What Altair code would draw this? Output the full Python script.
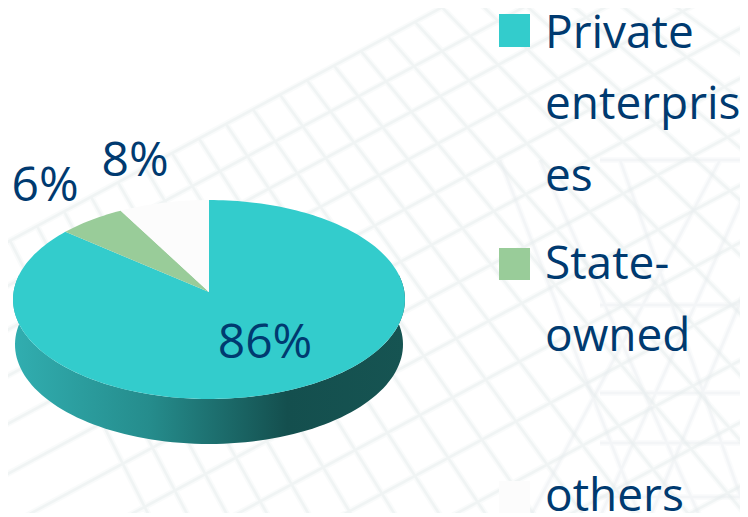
import math
import altair as alt
import pandas as pd

# ---- chart values ----
categories = ["Private enterprises", "State-owned", "others"]
shares = [86, 6, 8]
share_labels = ["86%", "6%", "8%"]
legend_lines = [["Private", "enterpris", "es"], ["State-", "owned"], ["others"]]
colors = ["#33CCCC", "#99CC99", "#FCFCFC"]

# ---- layout (page coordinates; the page margin is 8px) ----
M = 8
CX, CY = 209 - M, 292 - M
DEPTH = 45
K, A, B = 0.0754, 98.9, 195.4
PROJ = {"type": "identity", "scale": 1, "translate": [0, 0]}


def rim(theta_deg, dy=0.0, shrink=1.0):
    t = math.radians(theta_deg)
    X, Y = math.sin(t), math.cos(t)
    w = 1 + K * Y
    return [CX + shrink * B * X / w, CY - A * Y / w + dy]


def wedge(a0, a1):
    n = max(4, int((a1 - a0) / 1.5))
    return [[CX, CY]] + [rim(a0 + (a1 - a0) * i / n) for i in range(n + 1)] + [[CX, CY]]


features = []
acc = 0.0
for name, share in zip(categories, shares):
    a0, a1 = acc, acc + share * 3.6
    acc = a1
    features.append({
        "type": "Feature",
        "properties": {"name": name},
        "geometry": {"type": "Polygon", "coordinates": [wedge(a0, a1)]},
    })

side_top = [rim(a) for a in range(80, 281, 2)]
side_bot = [rim(a, DEPTH, 0.99) for a in range(280, 79, -2)]
side_feature = {
    "type": "Feature", "properties": {},
    "geometry": {"type": "Polygon", "coordinates": [side_top + side_bot + [side_top[0]]]},
}


# ---- faint background mesh ----
def seg(x0, y0, x1, y1):
    return [[x0 - M, y0 - M], [x1 - M, y1 - M]]


mesh = []
for c in [246, 290, 334, 380, 428, 478, 530, 585, 642, 700, 760, 822, 886]:
    mesh.append(seg(0, c, 748, c - 0.54 * 748))
for k in range(0, 22):
    x0 = 10 + 27 * k
    y0 = 246 - 0.54 * x0
    slope = 2.0 - 0.0022 * x0
    mesh.append(seg(x0, y0, x0 + (540 - y0) / slope, 540))
net = []
for y in [160, 305, 393, 443, 497]:
    net.append(seg(600, y, 748, y))
for x0, x1 in [(720, 530), (760, 600), (800, 650), (620, 748), (540, 700), (500, 640)]:
    net.append(seg(x0, 160, x1, 517))

mesh_feature = {"type": "Feature", "properties": {},
                "geometry": {"type": "MultiLineString", "coordinates": mesh}}
net_feature = {"type": "Feature", "properties": {},
               "geometry": {"type": "MultiLineString", "coordinates": net}}


def lines_layer(feature, color, width, opacity):
    return alt.Chart(alt.Data(values=[feature])).mark_geoshape(
        filled=False, stroke=color, strokeWidth=width, opacity=opacity, clip=True
    ).project(**PROJ)


mesh_soft = lines_layer(mesh_feature, "#E6ECEC", 6, 0.2)
mesh_core = lines_layer(mesh_feature, "#E6ECEC", 2.6, 0.45)
net_soft = lines_layer(net_feature, "#E9EEF0", 6, 0.18)
net_core = lines_layer(net_feature, "#E9EEF0", 2.6, 0.4)

side_gradient = alt.LinearGradient(
    gradient="linear", x1=0, x2=1, y1=0, y2=0,
    stops=[
        alt.GradientStop(offset=0, color="#31AEB0"),
        alt.GradientStop(offset=0.35, color="#258C8C"),
        alt.GradientStop(offset=0.70, color="#144F4E"),
        alt.GradientStop(offset=1, color="#165452"),
    ],
)
side_layer = alt.Chart(alt.Data(values=[side_feature])).mark_geoshape(
    fill=side_gradient, strokeWidth=0
).project(**PROJ)

pie_layer = alt.Chart(alt.Data(values=features)).mark_geoshape(strokeWidth=0).encode(
    color=alt.Color("properties.name:N", legend=None,
                    scale=alt.Scale(domain=categories, range=colors))
).project(**PROJ)

# ---- slice labels ----
label_df = pd.DataFrame({
    "text": share_labels,
    "x": [265 - M, 45 - M, 135 - M],
    "y": [358 - M, 201 - M, 176 - M],
})
labels = alt.Chart(label_df).mark_text(
    font="Open Sans", fontSize=48, color="#003A70", align="center", baseline="alphabetic"
).encode(
    x=alt.X("x:Q", scale=None, axis=None),
    y=alt.Y("y:Q", scale=None, axis=None),
    text="text:N",
)

# ---- hand-placed legend (wrapped like the original) ----
sq_df = pd.DataFrame({
    "name": categories,
    "x": [499 - M] * 3, "x2": [530 - M] * 3,
    "y": [14 - M, 248 - M, 481 - M], "y2": [47 - M, 280 - M, 513 - M],
    "c": colors,
})
squares = alt.Chart(sq_df).mark_rect().encode(
    x=alt.X("x:Q", scale=None, axis=None), x2="x2:Q",
    y=alt.Y("y:Q", scale=None, axis=None), y2="y2:Q",
    color=alt.Color("c:N", scale=None, legend=None),
)
line_y = [[48, 119, 191], [279, 351], [511]]
rows = []
for lines, ys in zip(legend_lines, line_y):
    for t, y in zip(lines, ys):
        rows.append({"text": t, "x": 545 - M, "y": y - M})
legend_text = alt.Chart(pd.DataFrame(rows)).mark_text(
    font="Open Sans", fontSize=46, color="#003A70", align="left", baseline="alphabetic"
).encode(
    x=alt.X("x:Q", scale=None, axis=None),
    y=alt.Y("y:Q", scale=None, axis=None),
    text="text:N",
)

chart = alt.layer(
    mesh_soft, mesh_core, net_soft, net_core, side_layer, pie_layer, labels, squares, legend_text
).resolve_scale(color="independent").properties(
    width=732, height=505, padding=0, autosize=alt.AutoSizeParams(type="none"),
    background="#FFFFFF",
).configure_view(stroke=None)

chart.save("out.html", embed_options={"renderer": "svg", "actions": False})
